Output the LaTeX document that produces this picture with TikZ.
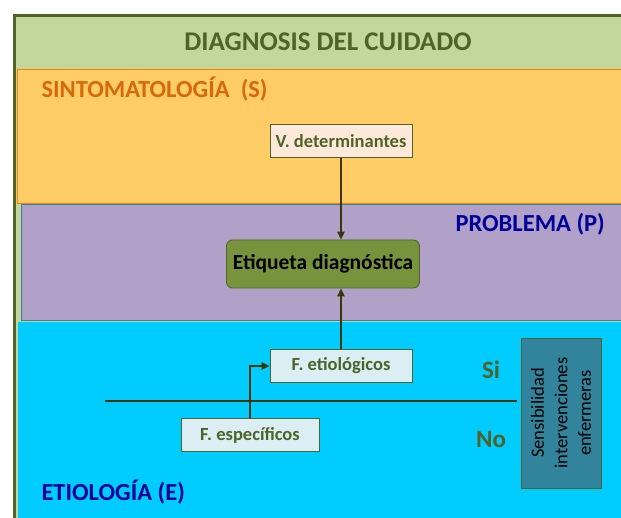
\documentclass[tikz,border=0pt]{standalone}
\usepackage{fontspec}
\setmainfont{Carlito}
\usetikzlibrary{positioning,arrows.meta}
\definecolor{cframe}{RGB}{79,98,40}
\definecolor{cback}{RGB}{195,214,155}
\definecolor{corange}{RGB}{255,204,102}
\definecolor{corangetxt}{RGB}{214,106,10}
\definecolor{cpurple}{RGB}{177,160,199}
\definecolor{cteal}{RGB}{49,132,155}
\definecolor{ccyan}{RGB}{0,204,255}
\definecolor{cblue}{RGB}{0,0,153}
\definecolor{colive}{RGB}{119,147,60}
\definecolor{cline}{RGB}{58,54,8}
\definecolor{cpeach}{RGB}{253,233,217}
\definecolor{cpale}{RGB}{218,238,243}

\begin{document}
\begin{tikzpicture}[x=1pt,y=-1pt,
    factor/.style={rectangle, draw=cframe, thick, text=cframe, font=\fontsize{18.5}{22}\selectfont\bfseries, minimum width=142, minimum height=33, inner sep=2},
    heading/.style={font=\fontsize{24.5}{28}\selectfont\bfseries, anchor=west},
    answer/.style={font=\fontsize{25}{28}\selectfont\bfseries, text=cframe},
    link/.style={-{Triangle[length=8,width=7]}, cline, line width=2.2}]
    \useasboundingbox (0,0) rectangle (621,518);
    \clip (0,0) rectangle (621,518);

    % bands
    \draw[cframe, fill=cback, line width=3] (14,16) rectangle (640,540);
    \draw[orange, fill=corange, thin] (17,69) rectangle (640,203);
    \draw[cteal, fill=cpurple, thin] (21,204) rectangle (640,320);
    \draw[cback, fill=ccyan, thin] (17,321) rectangle (640,540);

    \node[font=\fontsize{27}{31}\selectfont\bfseries, text=cframe] (Title) at (328,42) {DIAGNOSIS DEL CUIDADO};
    \node[heading, text=corangetxt] (Sinto) at (38,89) {SINTOMATOLOGÍA~~(S)};
    \node[heading, text=cblue] (Problema) at (452,224) {PROBLEMA (P)};
    \node[heading, text=cblue] (Etiologia) at (38,492) {ETIOLOGÍA (E)};

    \node[factor, fill=cpeach] (Determ) at (341,141) {V. determinantes};
    \node[rectangle, rounded corners=6, draw=cframe, thick, fill=colive, font=\fontsize{21.5}{25}\selectfont\bfseries, minimum width=193, minimum height=48] (Etiqueta) at (323,264) {Etiqueta diagnóstica};
    \node[factor, fill=cpale] (Etiol) at (341,366) {F. etiológicos};
    \node[factor, fill=cpale, minimum width=138] (Especif) at (250,435) {F. específicos};

    \node[rectangle, draw=cframe, thick, fill=cteal, minimum width=150, minimum height=80, rotate=90, align=center, font=\fontsize{18.5}{23.5}\selectfont] (Sensib) at (561,413) {Sensibilidad\\intervenciones\\enfermeras};

    \node[answer] (Si) at (491,370) {Si};
    \node[answer] (No) at (491,439) {No};

    \coordinate (LineL) at (105,401);
    \coordinate (LineR) at (517,401);
    \draw[cline, line width=2.4] (LineL) -- (LineR);

    \draw[link] (Determ) -- (Determ |- Etiqueta.north);
    \draw[link] (Etiol.north) -- (Etiol |- Etiqueta.south);
    \draw[link] (Especif.north) |- (Etiol.west);
  \end{tikzpicture}
\end{document}
